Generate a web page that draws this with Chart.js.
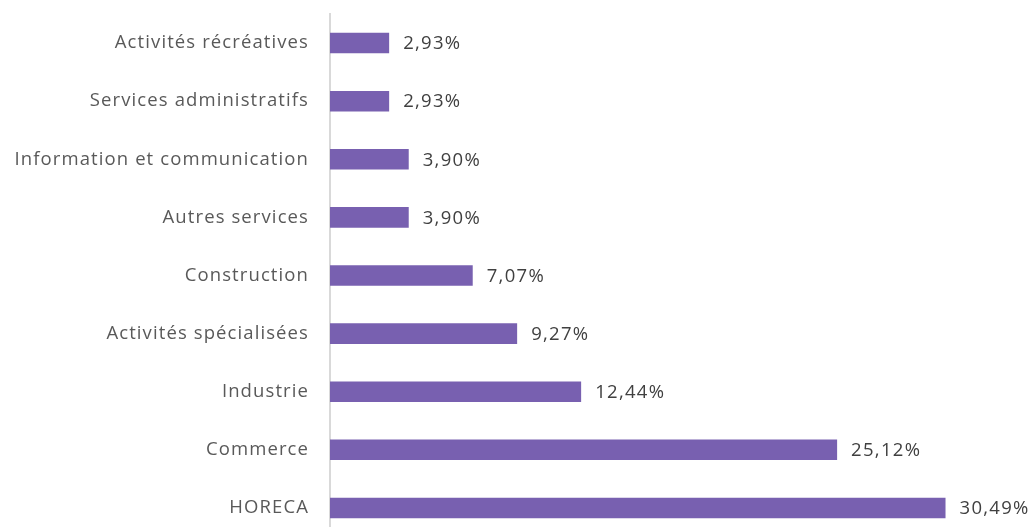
<!DOCTYPE html>
<html>
<head>
<meta charset="utf-8">
<script src="https://cdn.jsdelivr.net/npm/chart.js@4"></script>
<style>
html,body{margin:0;padding:0;background:#fff;overflow:hidden;}
#wrap{position:relative;width:1035px;height:537px;}
</style>
</head>
<body>
<div id="wrap"><canvas id="c"></canvas></div>
<script>
const categories = ["Activités récréatives","Services administratifs","Information et communication","Autres services","Construction","Activités spécialisées","Industrie","Commerce","HORECA"];
const values = [2.93, 2.93, 3.90, 3.90, 7.07, 9.27, 12.44, 25.12, 30.49];

const FONT = "'Open Sans', sans-serif";
const TICK_COLOR = "#595959";
const VALUE_COLOR = "#404040";

const spacing = {
  id: 'spacing',
  beforeDraw(chart) { chart.ctx.letterSpacing = '1.1px'; }
};

const valueLabels = {
  id: 'valueLabels',
  afterDatasetsDraw(chart) {
    const ctx = chart.ctx;
    const meta = chart.getDatasetMeta(0);
    ctx.save();
    ctx.letterSpacing = '1.3px';
    ctx.font = "18.5px " + FONT;
    ctx.fillStyle = VALUE_COLOR;
    ctx.textAlign = 'left';
    ctx.textBaseline = 'middle';
    meta.data.forEach((bar, i) => {
      const txt = values[i].toFixed(2).replace('.', ',') + '%';
      ctx.fillText(txt, bar.x + 14, bar.y + 1);
    });
    ctx.restore();
  }
};

new Chart(document.getElementById('c'), {
  type: 'bar',
  data: {
    labels: categories,
    datasets: [{
      data: values,
      backgroundColor: '#7860B0',
      borderWidth: 0,
      barPercentage: 0.68,
      categoryPercentage: 0.52
    }]
  },
  options: {
    indexAxis: 'y',
    responsive: true,
    maintainAspectRatio: false,
    animation: false,
    layout: { padding: { top: 14, right: 59, bottom: 0, left: 0 } },
    plugins: { legend: { display: false }, tooltip: { enabled: false } },
    scales: {
      x: {
        display: false,
        min: 0,
        max: 32
      },
      y: {
        grid: { display: false, drawTicks: false },
        border: { display: true, color: '#d9d9d9', width: 2 },
        ticks: {
          color: TICK_COLOR,
          padding: 21,
          font: { family: FONT, size: 18.5 }
        },
        afterFit(scale) { scale.width = 330; scale.paddingTop = 0; scale.paddingBottom = 0; }
      }
    }
  },
  plugins: [spacing, valueLabels]
});
</script>
</body>
</html>
